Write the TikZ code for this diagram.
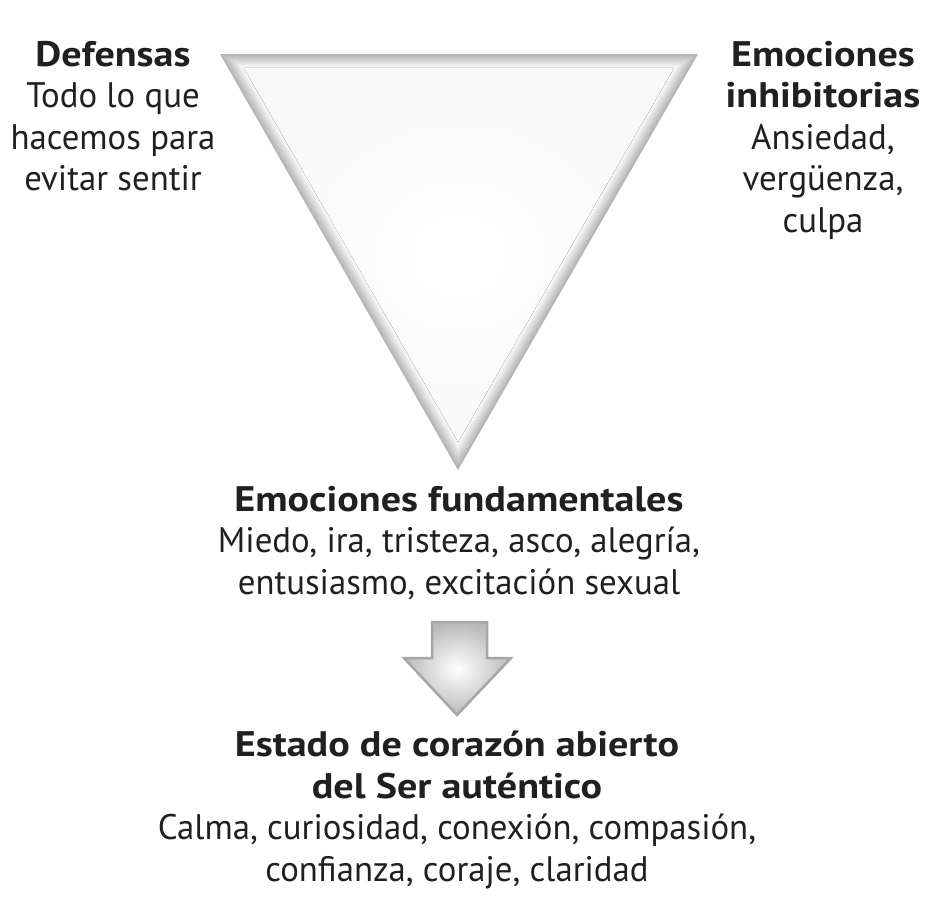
\documentclass[tikz,border=0pt]{standalone}
\usepackage{fontspec}
\setmainfont[FakeStretch=0.98, BoldFeatures={FakeStretch=1.13}]{PT Sans}
\usetikzlibrary{calc}
\definecolor{Ink}{rgb}{0.13, 0.12, 0.12}

\begin{document}
\begin{tikzpicture}[x=1pt, y=-1pt,
    every node/.style={inner sep=0pt},
    block/.style={align=center, text=Ink, font=\fontsize{35.5}{41.5}\selectfont}]
  \useasboundingbox (0,0) rectangle (938,903);

  % inverted triangle, grey rim fading to white
  \coordinate (tl) at (220,54);
  \coordinate (tr) at (698,54);
  \coordinate (bot) at (458,470);
  \coordinate (mid) at (458.7,192.7);
  \foreach \i [evaluate=\i as \c using int(60-3*\i),
               evaluate=\i as \s using 1-0.005*\i] in {0,...,19}
    \fill[gray!\c] ($(mid)!\s!(tl)$) -- ($(mid)!\s!(tr)$) -- ($(mid)!\s!(bot)$) -- cycle;
  \fill[inner color=white, outer color=gray!5]
    ($(mid)!0.9!(tl)$) -- ($(mid)!0.9!(tr)$) -- ($(mid)!0.9!(bot)$) -- cycle;

  % down arrow
  \filldraw[draw=gray!70, line width=2.5pt, inner color=white, outer color=gray!55]
    (432,622) -- (487,622) -- (487,658) -- (511,658) -- (457,715)
    -- (404,658) -- (432,658) -- cycle;

  \node[block, anchor=north] (defensas) at (113,41)
    {\textbf{Defensas}\\Todo lo que\\hacemos para\\evitar sentir};
  \node[block, anchor=north] (inhib) at (823,41)
    {\textbf{Emociones}\\\textbf{inhibitorias}\\Ansiedad,\\vergüenza,\\culpa};
  \node[block, anchor=north] (fund) at (459,486)
    {\textbf{Emociones fundamentales}\\Miedo, ira, tristeza, asco, alegría,\\entusiasmo, excitación sexual};
  \node[block, anchor=north] (estado) at (457,731)
    {\textbf{Estado de corazón abierto}\\\textbf{del Ser auténtico}\\Calma, curiosidad, conexión, compasión,\\confianza, coraje, claridad};
\end{tikzpicture}
\end{document}
